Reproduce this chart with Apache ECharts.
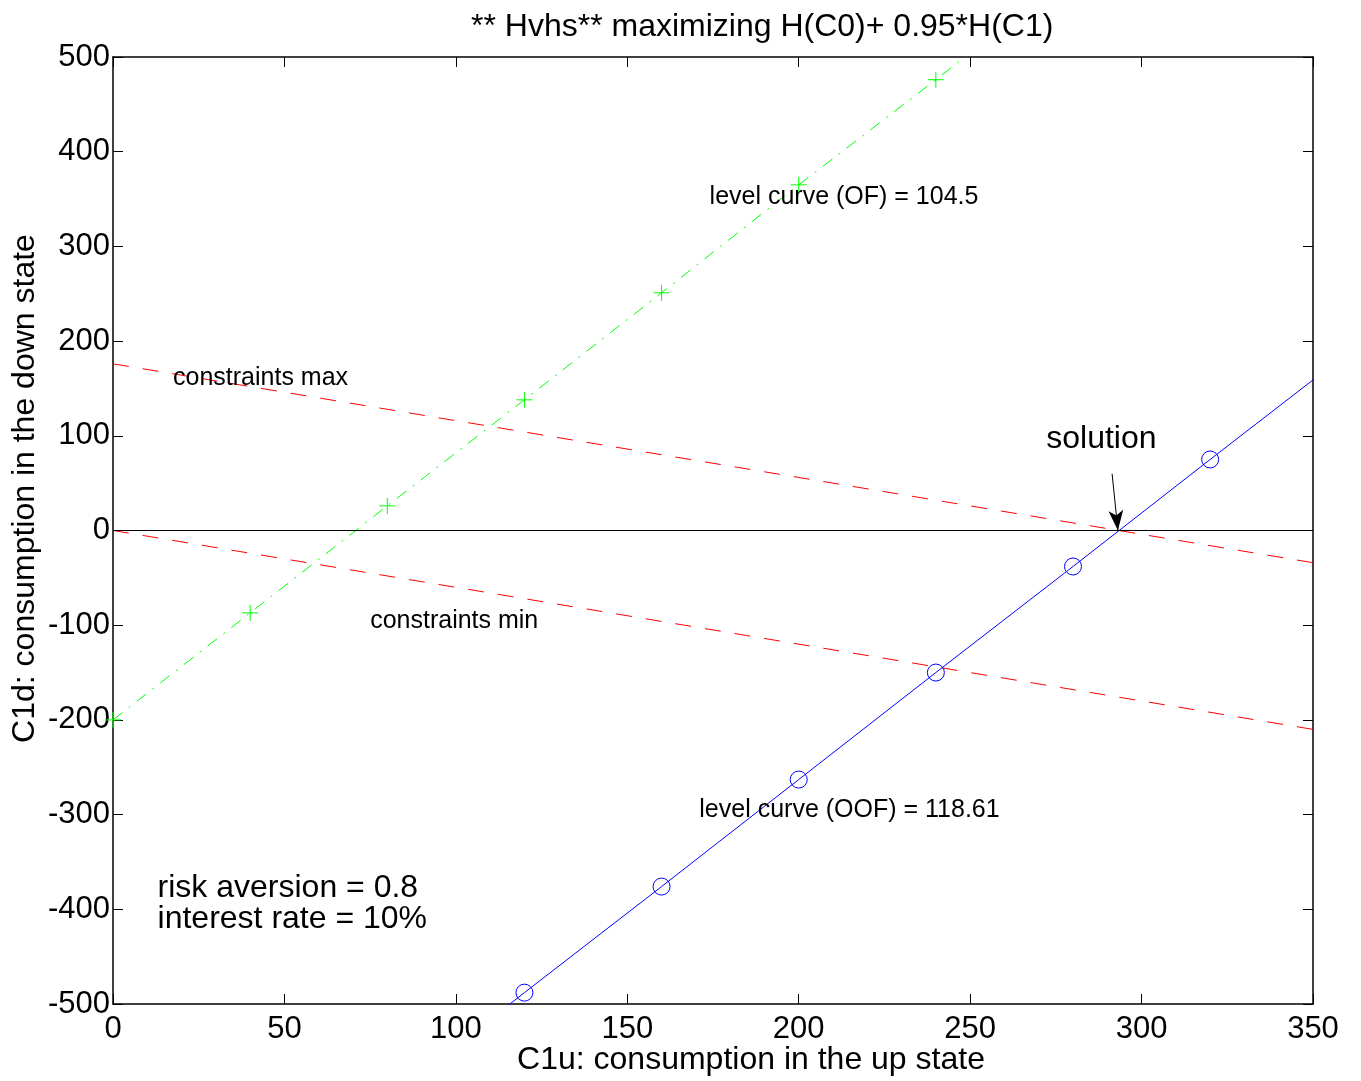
<!DOCTYPE html>
<html>
<head>
<meta charset="utf-8">
<script src="https://cdn.jsdelivr.net/npm/echarts@6/dist/echarts.min.js"></script>
<style>
  html, body { margin: 0; padding: 0; background: #fff; }
  #main { width: 1361px; height: 1081px; }
</style>
</head>
<body>
<div id="main"></div>
<script>
// level curve (OF), green dash-dot with + markers
const ofX = [0, 40, 80, 120, 160, 200, 240, 280];
const ofY = [-200, -87, 26, 138, 251, 365, 476, 589];

// level curve (OOF), blue solid with circle markers
const oofX = [80, 120, 160, 200, 240, 280, 320, 360];
const oofY = [-601, -488, -376, -263, -150, -38, 75, 187];

// constraints (red dashed)
const consX = [0, 350];
const consMax = [176, -34];
const consMin = [0, -210];

const xTicks = { min: 0, max: 350, step: 50 };
const yTicks = { min: -500, max: 500, step: 100 };

// annotations in data coordinates
const notes = [
  { text: 'level curve (OF) = 104.5', x: 174, y: 352, size: 25 },
  { text: 'constraints max', x: 17.5, y: 161, size: 25 },
  { text: 'constraints min', x: 75, y: -96, size: 25 },
  { text: 'level curve (OOF) = 118.61', x: 171, y: -295, size: 25 },
  { text: 'solution', x: 272.2, y: 96, size: 32 },
  { text: 'risk aversion = 0.8\ninterest rate = 10%', x: 13, y: -394, size: 32 }
];
const arrowFrom = [291.4, 60];
const arrowTo = [293.1, 0];

const FONT = 'Liberation Sans, Arial, sans-serif';

function zip(xs, ys) {
  return xs.map((x, i) => [x, ys[i]]);
}

let chart = echarts.init(document.getElementById('main'), null, { renderer: 'canvas' });

let axisCommon = {
  type: 'value',
  axisLine: { onZero: false, lineStyle: { color: '#000', width: 1.5 } },
  axisTick: { inside: true, length: 10, lineStyle: { color: '#000', width: 1 } },
  splitLine: { show: false }
};

let option = {
  animation: false,
  backgroundColor: '#fff',
  title: {
    text: '** Hvhs** maximizing H(C0)+ 0.95*H(C1)',
    left: 466,
    top: 6,
    textStyle: { fontFamily: FONT, fontSize: 32, fontWeight: 'normal', color: '#000' }
  },
  grid: { left: 113, top: 57, right: 48, bottom: 77, outerBoundsMode: 'none', containLabel: false },
  xAxis: [
    Object.assign({}, axisCommon, {
      position: 'bottom',
      min: xTicks.min, max: xTicks.max, interval: xTicks.step,
      name: 'C1u: consumption in the up state',
      nameLocation: 'middle',
      nameGap: 40,
      nameMoveOverlap: false,
      nameTextStyle: { fontFamily: FONT, fontSize: 32, color: '#000', padding: [0, 0, 0, 76] },
      axisLabel: { fontFamily: FONT, fontSize: 31, color: '#000', margin: 10 }
    }),
    Object.assign({}, axisCommon, {
      position: 'top',
      min: xTicks.min, max: xTicks.max, interval: xTicks.step,
      axisLabel: { show: false }
    })
  ],
  yAxis: [
    Object.assign({}, axisCommon, {
      position: 'left',
      min: yTicks.min, max: yTicks.max, interval: yTicks.step,
      name: 'C1d: consumption in the down state',
      nameLocation: 'middle',
      nameGap: 72,
      nameMoveOverlap: false,
      nameTextStyle: { fontFamily: FONT, fontSize: 32, color: '#000', padding: [0, 0, 0, 84] },
      axisLabel: { fontFamily: FONT, fontSize: 31, color: '#000', margin: 3 }
    }),
    Object.assign({}, axisCommon, {
      position: 'right',
      min: yTicks.min, max: yTicks.max, interval: yTicks.step,
      axisLabel: { show: false }
    })
  ],
  series: [
    {
      name: 'zero',
      type: 'line',
      data: [],
      markLine: {
        silent: true,
        symbol: 'none',
        label: { show: false },
        lineStyle: { color: '#000', width: 1, type: 'solid' },
        data: [{ yAxis: 0 }]
      }
    },
    {
      name: 'cons max',
      type: 'line',
      data: zip(consX, consMax),
      showSymbol: false,
      lineStyle: { color: '#ff0000', width: 1, type: [16, 14] }
    },
    {
      name: 'cons min',
      type: 'line',
      data: zip(consX, consMin),
      showSymbol: false,
      lineStyle: { color: '#ff0000', width: 1, type: [16, 14] }
    },
    {
      name: 'OF',
      type: 'line',
      data: zip(ofX, ofY),
      clip: true,
      symbol: 'path://M0,5L10,5M5,0L5,10',
      symbolSize: 16,
      itemStyle: { color: 'none', borderColor: '#00ff00', borderWidth: 1 },
      lineStyle: { color: '#00ff00', width: 1, type: [12, 8, 2, 8] }
    },
    {
      name: 'OOF',
      type: 'line',
      data: zip(oofX, oofY),
      clip: true,
      symbol: 'circle',
      symbolSize: 17,
      itemStyle: { color: 'rgba(0,0,0,0)', borderColor: '#0000ff', borderWidth: 1 },
      lineStyle: { color: '#0000ff', width: 1 }
    },
    {
      name: 'arrow',
      type: 'line',
      data: [],
      markLine: {
        silent: true,
        label: { show: false },
        lineStyle: { color: '#000', width: 1, type: 'solid' },
        symbolSize: [11, 20],
        data: [[
          { coord: arrowFrom, symbol: 'none' },
          { coord: arrowTo, symbol: 'arrow' }
        ]]
      }
    }
  ]
};

chart.setOption(option);

// place annotations using the chart's own scales
let graphics = notes.map(n => {
  let p = chart.convertToPixel({ xAxisIndex: 0, yAxisIndex: 0 }, [n.x, n.y]);
  return {
    type: 'text',
    x: p[0],
    y: p[1],
    style: {
      text: n.text,
      fill: '#000',
      font: n.size + 'px ' + FONT,
      verticalAlign: 'middle',
      lineHeight: n.size * 0.97
    },
    z: 10
  };
});
chart.setOption({ graphic: graphics });
</script>
</body>
</html>
